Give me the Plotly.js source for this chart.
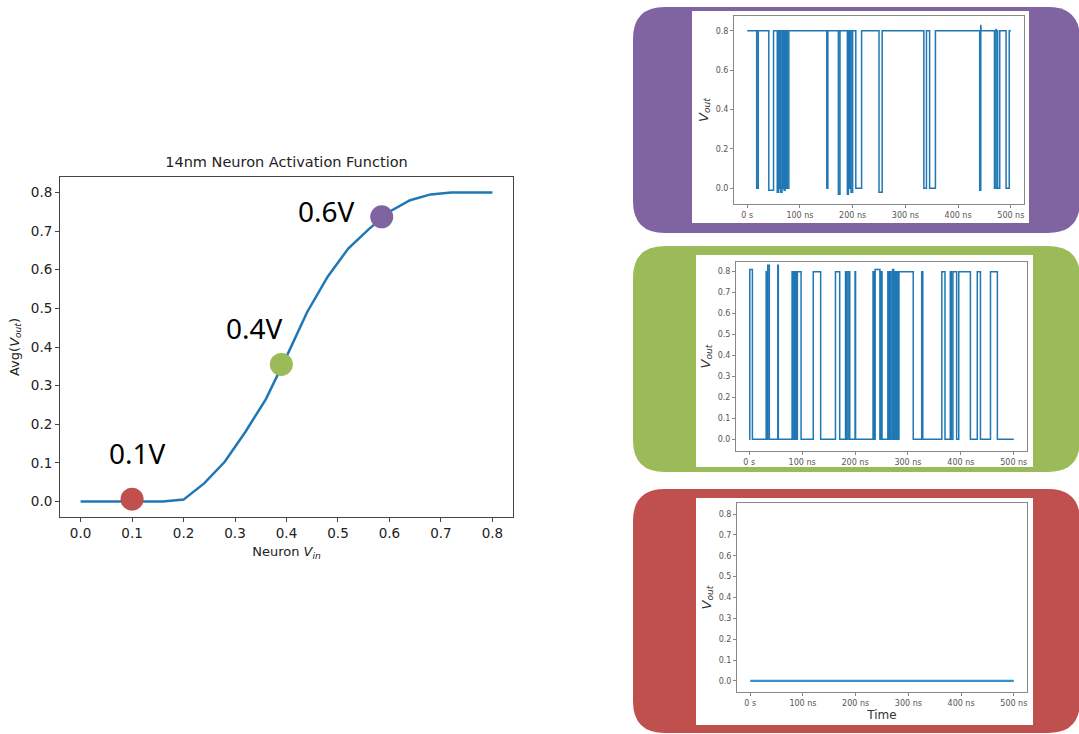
<!DOCTYPE html>
<html>
<head>
<meta charset="utf-8">
<script src="https://cdn.plot.ly/plotly-3.0.1.min.js"></script>
<style>html,body{margin:0;padding:0;background:#fff;}#chart{width:1079px;height:734px;}</style>
</head>
<body>
<div id="chart"></div>
<script>
// ---- Main activation curve ----
const vin = [0.00,0.04,0.08,0.12,0.16,0.20,0.24,0.28,0.32,0.36,0.40,0.44,0.48,0.52,0.56,0.60,0.64,0.68,0.72,0.76,0.80];
const avgVout = [0,0,0,0,0,0.005,0.047,0.103,0.18,0.265,0.375,0.49,0.582,0.655,0.705,0.75,0.78,0.795,0.8,0.8,0.8];
const markerVin = [0.10, 0.39, 0.585];
const markerVout = [0.006, 0.355, 0.737];
const markerLabels = ["0.1V", "0.4V", "0.6V"];
const markerColors = ["#C0504D", "#9BBB59", "#8064A2"];
const mainTicks = [0.0,0.1,0.2,0.3,0.4,0.5,0.6,0.7,0.8];

// ---- Time traces (ns) ----
const timeTickVals = [0,100,200,300,400,500];
const timeTickText = ["0 s","100 ns","200 ns","300 ns","400 ns","500 ns"];
// 0.6V: output sits high (0.8) with low intervals [start, end, bottom, overshoot-after]
const purpleLow = [[18,21,0],[41,50,-0.01],[57,59,-0.02],[60,62,0],[63,66,-0.02],[67,69,0],[70,72,-0.01],[73,75,0],[76,79,0],
  [151,153,0],[173,176,-0.03],[190,192,-0.03],[194,196,0],[197,200,-0.02],[206,217,0],[250,256,-0.02],
  [335,340,0],[346,357,0],[441,443,-0.01,0.83],[469,472,0,0.81],[475,479,0],[491,497,0]];
// 0.4V: output sits low (0) with high intervals [start, end, top]
const greenHigh = [[1,6,0.81],[32,34,0.8],[35,38,0.83],[54,55,0.83],[81,82,0.8],[84,85,0.8],[87,89,0.8],[91,98,0.8],
  [121,135,0.8],[163,171,0.8],[182,184,0.8],[187,190,0.8],[200,201,0.8],[234,236,0.8],[238,247,0.81],[249,251,0.8],
  [262,264,0.8],[266,268,0.8],[271,273,0.81],[275,277,0.8],[279,281,0.8],[283,310,0.8],[326,328,0.8],
  [364,370,0.8],[380,382,0.8],[385,392,0.8],[396,418,0.8],[431,437,0.8],[456,469,0.8]];
// 0.1V: output stays at 0
const redTime = [0, 500];
const redVout = [0, 0];

function lowSteps(intervals, level, t0, t1) {
  const x = [t0], y = [level];
  intervals.forEach(iv => {
    x.push(iv[0], iv[0], iv[1]); y.push(level, iv[2], iv[2]);
    if (iv.length > 3) { x.push(iv[1], iv[1] + 0.6); y.push(iv[3], level); }
    else { x.push(iv[1]); y.push(level); }
  });
  x.push(t1); y.push(level);
  return {x, y};
}
function highSteps(intervals, level, t0, t1) {
  const x = [t0], y = [level];
  intervals.forEach(iv => {
    x.push(iv[0], iv[0], iv[1], iv[1]); y.push(level, iv[2], iv[2], level);
  });
  x.push(t1); y.push(level);
  return {x, y};
}
const pStep = lowSteps(purpleLow, 0.8, 0, 500);
const gStep = highSteps(greenHigh, 0, 0, 500);

const blue = "#1f77b4";
const traces = [
  {x: vin, y: avgVout, mode: "lines", line: {color: blue, width: 2.5}, xaxis: "x", yaxis: "y", hoverinfo: "skip"},
  {x: markerVin, y: markerVout, mode: "markers", marker: {color: markerColors, size: 23}, xaxis: "x", yaxis: "y"},
  {x: pStep.x, y: pStep.y, mode: "lines", line: {color: blue, width: 1.5}, xaxis: "x2", yaxis: "y2"},
  {x: gStep.x, y: gStep.y, mode: "lines", line: {color: blue, width: 1.5}, xaxis: "x3", yaxis: "y3"},
  {x: redTime, y: redVout, mode: "lines", line: {color: "#3a8fd0", width: 2.2}, xaxis: "x4", yaxis: "y4"}
];

const W = 1079, H = 734;
const px = v => v / W, py = v => 1 - v / H;
function roundRect(x0, y0, x1, y1, r) {
  const X0 = px(x0), X1 = px(x1), Y0 = py(y0), Y1 = py(y1), rx = r / W, ry = r / H;
  return `M ${X0+rx},${Y0} L ${X1-rx},${Y0} Q ${X1},${Y0} ${X1},${Y0-ry} L ${X1},${Y1+ry} Q ${X1},${Y1} ${X1-rx},${Y1} L ${X0+rx},${Y1} Q ${X0},${Y1} ${X0},${Y1+ry} L ${X0},${Y0-ry} Q ${X0},${Y0} ${X0+rx},${Y0} Z`;
}
const shapes = [
  {type: "path", xref: "paper", yref: "paper", path: roundRect(633, 7, 1080, 233, 32), fillcolor: "#8064A2", line: {width: 0}, layer: "below"},
  {type: "path", xref: "paper", yref: "paper", path: roundRect(633, 246, 1080, 472, 32), fillcolor: "#9BBB59", line: {width: 0}, layer: "below"},
  {type: "path", xref: "paper", yref: "paper", path: roundRect(633, 489, 1080, 733, 32), fillcolor: "#C0504D", line: {width: 0}, layer: "below"},
  {type: "rect", xref: "paper", yref: "paper", x0: px(692), x1: px(1029), y0: py(223), y1: py(11), fillcolor: "#fff", line: {width: 0}, layer: "below"},
  {type: "rect", xref: "paper", yref: "paper", x0: px(696), x1: px(1033), y0: py(467), y1: py(255), fillcolor: "#fff", line: {width: 0}, layer: "below"},
  {type: "rect", xref: "paper", yref: "paper", x0: px(696), x1: px(1033), y0: py(725), y1: py(498), fillcolor: "#fff", line: {width: 0}, layer: "below"}
];

const font = "DejaVu Sans, sans-serif";
const frame = {showline: true, mirror: true, linecolor: "#444", linewidth: 1, ticks: "outside", ticklen: 4, tickcolor: "#444", showgrid: false, zeroline: false};
const smallAxisFont = {family: font, size: 8, color: "#555"};
function smallX(domain, anchor, title) {
  const a = Object.assign({}, frame, {domain: domain, anchor: anchor, range: [-25, 525], tickvals: timeTickVals, ticktext: timeTickText, tickfont: smallAxisFont, linecolor: "#888", tickcolor: "#888", ticklen: 3});
  if (title) a.title = {text: title, font: {family: font, size: 12, color: "#333"}, standoff: 2};
  return a;
}
function smallY(domain, anchor, range, ticks) {
  return Object.assign({}, frame, {domain: domain, anchor: anchor, range: range, tickvals: ticks, tickformat: ".1f", tickfont: smallAxisFont, linecolor: "#888", tickcolor: "#888", ticklen: 3,
    title: {text: "<i>V</i><sub><i>out</i></sub>", font: {family: font, size: 13, color: "#333"}, standoff: 4}});
}

const labelX = [0.111, 0.338, 0.478];
const labelY = [0.126, 0.449, 0.752];
const annotations = markerLabels.map((t, i) => ({
  x: labelX[i], y: labelY[i], xref: "x", yref: "y", text: t, showarrow: false,
  font: {family: "Noto Sans, sans-serif", size: 28, color: "#000"}, xanchor: "center", yanchor: "middle"
}));

const layout = {
  width: W, height: H, margin: {l: 0, r: 0, t: 0, b: 0},
  paper_bgcolor: "#fff", plot_bgcolor: "#fff", showlegend: false,
  title: {text: "14nm Neuron Activation Function", x: 0.2655, xref: "paper", xanchor: "center", y: 0.7797, yref: "paper", yanchor: "middle", font: {family: font, size: 14.5, color: "#222"}},
  xaxis: Object.assign({}, frame, {domain: [px(60), px(513)], anchor: "y", range: [-0.04, 0.84], tickvals: mainTicks, tickformat: ".1f", tickfont: {family: font, size: 13.5, color: "#222"},
    title: {text: "Neuron <i>V</i><sub><i>in</i></sub>", font: {family: font, size: 13, color: "#222"}, standoff: 6}}),
  yaxis: Object.assign({}, frame, {domain: [py(517), py(177)], anchor: "x", range: [-0.04, 0.84], tickvals: mainTicks, tickformat: ".1f", tickfont: {family: font, size: 13.5, color: "#222"},
    title: {text: "Avg(<i>V</i><sub><i>out</i></sub>)", font: {family: font, size: 13, color: "#222"}, standoff: 8}}),
  xaxis2: smallX([px(734), px(1024)], "y2"),
  yaxis2: smallY([py(204), py(16)], "x2", [-0.08, 0.875], [0, 0.2, 0.4, 0.6, 0.8]),
  xaxis3: smallX([px(736), px(1027)], "y3"),
  yaxis3: smallY([py(451), py(262)], "x3", [-0.056, 0.846], mainTicks),
  xaxis4: smallX([px(737), px(1027)], "y4", "Time"),
  yaxis4: smallY([py(692), py(503)], "x4", [-0.053, 0.853], mainTicks),
  shapes: shapes,
  annotations: annotations
};

Plotly.newPlot("chart", traces, layout, {staticPlot: true, displayModeBar: false});
</script>
</body>
</html>
